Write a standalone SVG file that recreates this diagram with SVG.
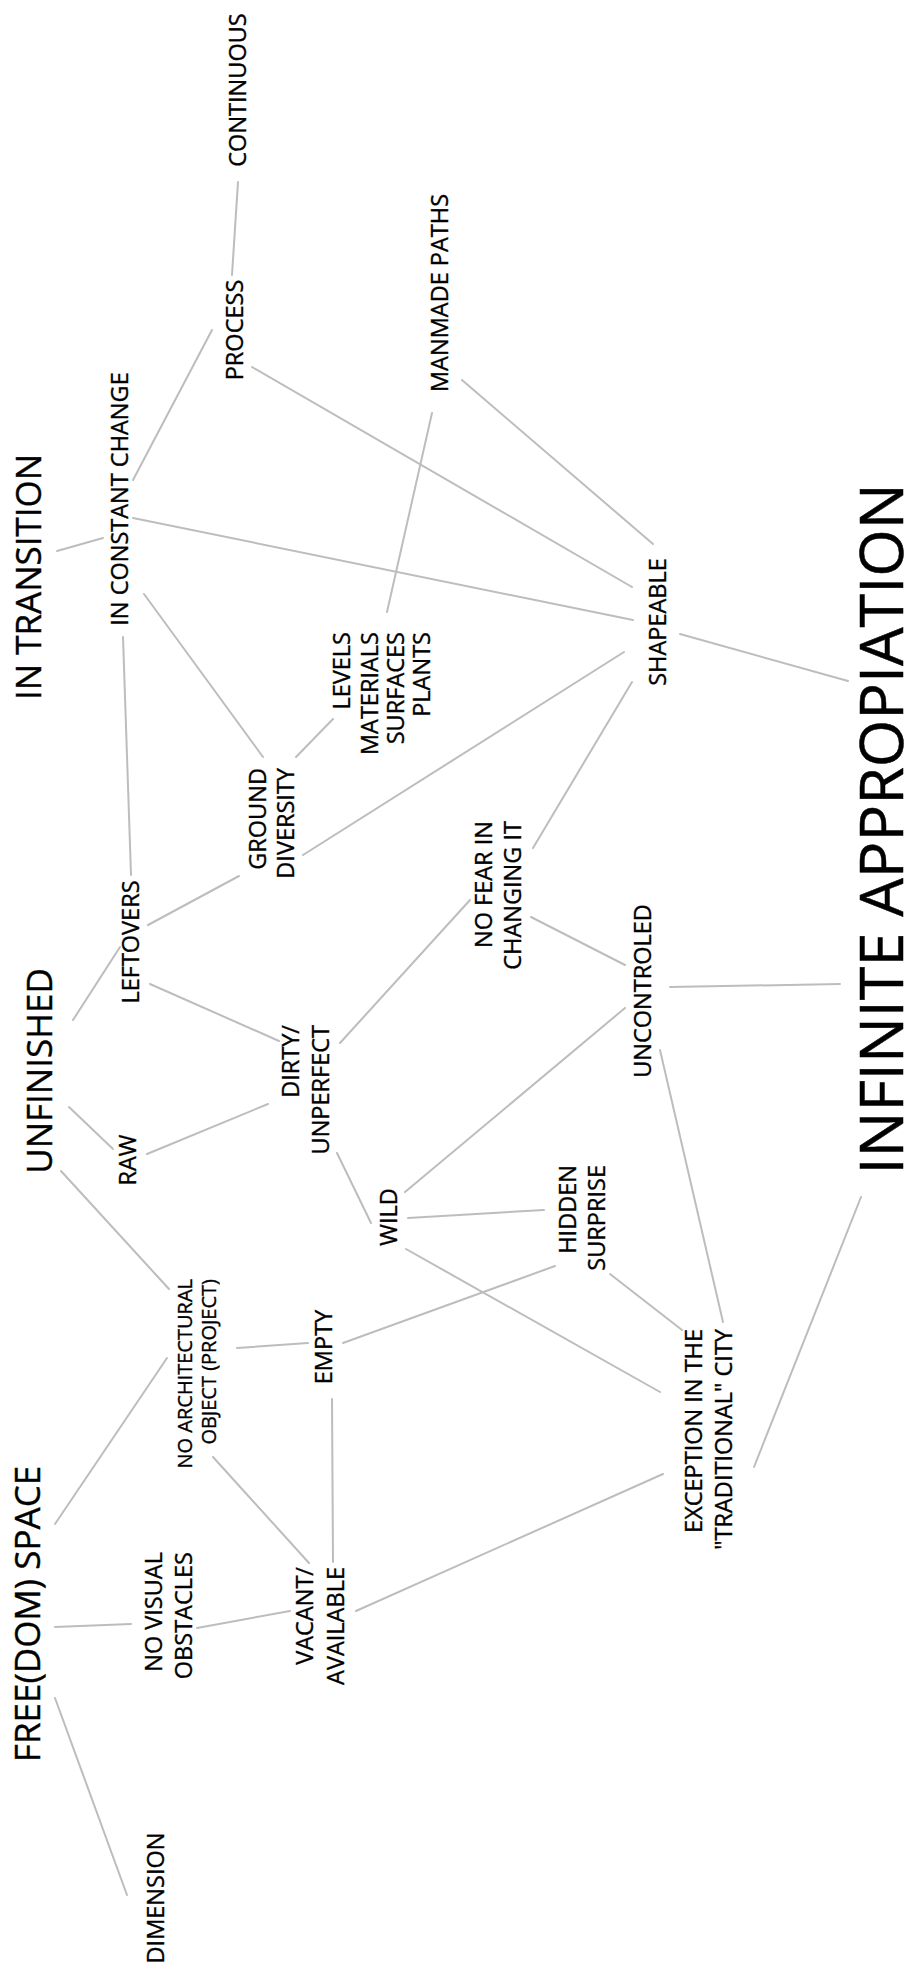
<svg xmlns="http://www.w3.org/2000/svg" width="921" height="1977" viewBox="0 0 921 1977">
<style>
text{font-family:"Open Sans","Noto Sans","Liberation Sans",sans-serif;fill:#000;stroke:#000;stroke-width:0.35px;}
.s{font-size:23.5px;}
.m{font-size:20px;}
.t{font-size:35px;stroke-width:0.4px;}
.b{font-size:61px;stroke-width:0.5px;}
.c{text-anchor:middle;}
.e{text-anchor:end;}
#connectors line{stroke:#bdbdbd;stroke-width:2;stroke-linecap:round;fill:none;}
</style>
<rect width="921" height="1977" fill="#fff"/>
<g id="connectors">
<line x1="238" y1="182" x2="232" y2="275"/>
<line x1="212" y1="330" x2="133" y2="480"/>
<line x1="252" y1="367" x2="632" y2="587"/>
<line x1="462" y1="380" x2="653" y2="544"/>
<line x1="432" y1="413" x2="387" y2="612"/>
<line x1="57" y1="551" x2="103" y2="538"/>
<line x1="133" y1="518" x2="633" y2="620"/>
<line x1="144" y1="594" x2="263" y2="757"/>
<line x1="123" y1="637" x2="131" y2="875"/>
<line x1="296" y1="757" x2="333" y2="719"/>
<line x1="303" y1="855" x2="624" y2="652"/>
<line x1="148" y1="925" x2="239" y2="876"/>
<line x1="73" y1="1020" x2="120" y2="947"/>
<line x1="150" y1="984" x2="279" y2="1041"/>
<line x1="69" y1="1107" x2="113" y2="1149"/>
<line x1="147" y1="1154" x2="268" y2="1104"/>
<line x1="340" y1="1043" x2="470" y2="900"/>
<line x1="632" y1="682" x2="533" y2="848"/>
<line x1="531" y1="917" x2="625" y2="965"/>
<line x1="680" y1="634" x2="848" y2="681"/>
<line x1="670" y1="987" x2="840" y2="984"/>
<line x1="337" y1="1153" x2="371" y2="1223"/>
<line x1="405" y1="1192" x2="625" y2="1008"/>
<line x1="408" y1="1218" x2="544" y2="1210"/>
<line x1="406" y1="1249" x2="660" y2="1392"/>
<line x1="343" y1="1343" x2="555" y2="1266"/>
<line x1="610" y1="1274" x2="682" y2="1330"/>
<line x1="660" y1="1050" x2="723" y2="1322"/>
<line x1="861" y1="1197" x2="754" y2="1467"/>
<line x1="356" y1="1611" x2="663" y2="1474"/>
<line x1="61" y1="1171" x2="169" y2="1289"/>
<line x1="237" y1="1348" x2="308" y2="1343"/>
<line x1="55" y1="1524" x2="167" y2="1358"/>
<line x1="213" y1="1457" x2="309" y2="1563"/>
<line x1="332" y1="1399" x2="333" y2="1562"/>
<line x1="55" y1="1627" x2="131" y2="1624"/>
<line x1="197" y1="1628" x2="290" y2="1611"/>
<line x1="55" y1="1698" x2="127" y2="1895"/>
</g>
<g id="continuous"><text class="s c" transform="translate(246,90) rotate(-90)">CONTINUOUS</text></g>
<g id="process"><text class="s c" transform="translate(243,330) rotate(-90)">PROCESS</text></g>
<g id="manmade-paths"><text class="s c" transform="translate(448,293) rotate(-90)">MANMADE PATHS</text></g>
<g id="in-constant-change"><text class="s c" transform="translate(128,499) rotate(-90)">IN CONSTANT CHANGE</text></g>
<g id="in-transition"><text class="t c" transform="translate(41,577) rotate(-90)">IN TRANSITION</text></g>
<g id="levels">
<text class="s e" transform="translate(350,632) rotate(-90)">LEVELS</text>
<text class="s e" transform="translate(378,632) rotate(-90)">MATERIALS</text>
<text class="s e" transform="translate(404,632) rotate(-90)">SURFACES</text>
<text class="s e" transform="translate(430,632) rotate(-90)">PLANTS</text>
</g>
<g id="ground-diversity">
<text class="s e" transform="translate(266,768) rotate(-90)">GROUND</text>
<text class="s e" transform="translate(294,768) rotate(-90)">DIVERSITY</text>
</g>
<g id="shapeable"><text class="s c" transform="translate(666,622) rotate(-90)">SHAPEABLE</text></g>
<g id="infinite-appropiation"><text class="b c" transform="translate(903,829) rotate(-90)">INFINITE APPROPIATION</text></g>
<g id="leftovers"><text class="s c" transform="translate(139,942) rotate(-90)">LEFTOVERS</text></g>
<g id="no-fear">
<text class="s e" transform="translate(492,821) rotate(-90)">NO FEAR IN</text>
<text class="s e" transform="translate(521,821) rotate(-90)">CHANGING IT</text>
</g>
<g id="uncontroled"><text class="s c" transform="translate(651,991) rotate(-90)">UNCONTROLED</text></g>
<g id="unfinished"><text class="t c" transform="translate(52,1071) rotate(-90)">UNFINISHED</text></g>
<g id="raw"><text class="s c" transform="translate(136,1160) rotate(-90)">RAW</text></g>
<g id="dirty">
<text class="s e" transform="translate(299,1025) rotate(-90)">DIRTY/</text>
<text class="s e" transform="translate(329,1025) rotate(-90)">UNPERFECT</text>
</g>
<g id="wild"><text class="s c" transform="translate(397,1217) rotate(-90)">WILD</text></g>
<g id="hidden-surprise">
<text class="s e" transform="translate(576,1165) rotate(-90)">HIDDEN</text>
<text class="s e" transform="translate(605,1165) rotate(-90)">SURPRISE</text>
</g>
<g id="no-architectural">
<text class="m e" transform="translate(192,1279) rotate(-90)">NO ARCHITECTURAL</text>
<text class="m e" transform="translate(216,1279) rotate(-90)">OBJECT (PROJECT)</text>
</g>
<g id="empty"><text class="s c" transform="translate(332,1347) rotate(-90)">EMPTY</text></g>
<g id="exception">
<text class="s e" transform="translate(702,1329) rotate(-90)">EXCEPTION IN THE</text>
<text class="s e" transform="translate(732,1329) rotate(-90)">"TRADITIONAL" CITY</text>
</g>
<g id="freedom-space"><text class="t c" transform="translate(40,1614) rotate(-90)">FREE(DOM) SPACE</text></g>
<g id="no-visual">
<text class="s e" transform="translate(162,1552) rotate(-90)">NO VISUAL</text>
<text class="s e" transform="translate(192,1552) rotate(-90)">OBSTACLES</text>
</g>
<g id="vacant">
<text class="s e" transform="translate(313,1567) rotate(-90)">VACANT/</text>
<text class="s e" transform="translate(344,1567) rotate(-90)">AVAILABLE</text>
</g>
<g id="dimension"><text class="s c" transform="translate(164,1898) rotate(-90)">DIMENSION</text></g>
</svg>
